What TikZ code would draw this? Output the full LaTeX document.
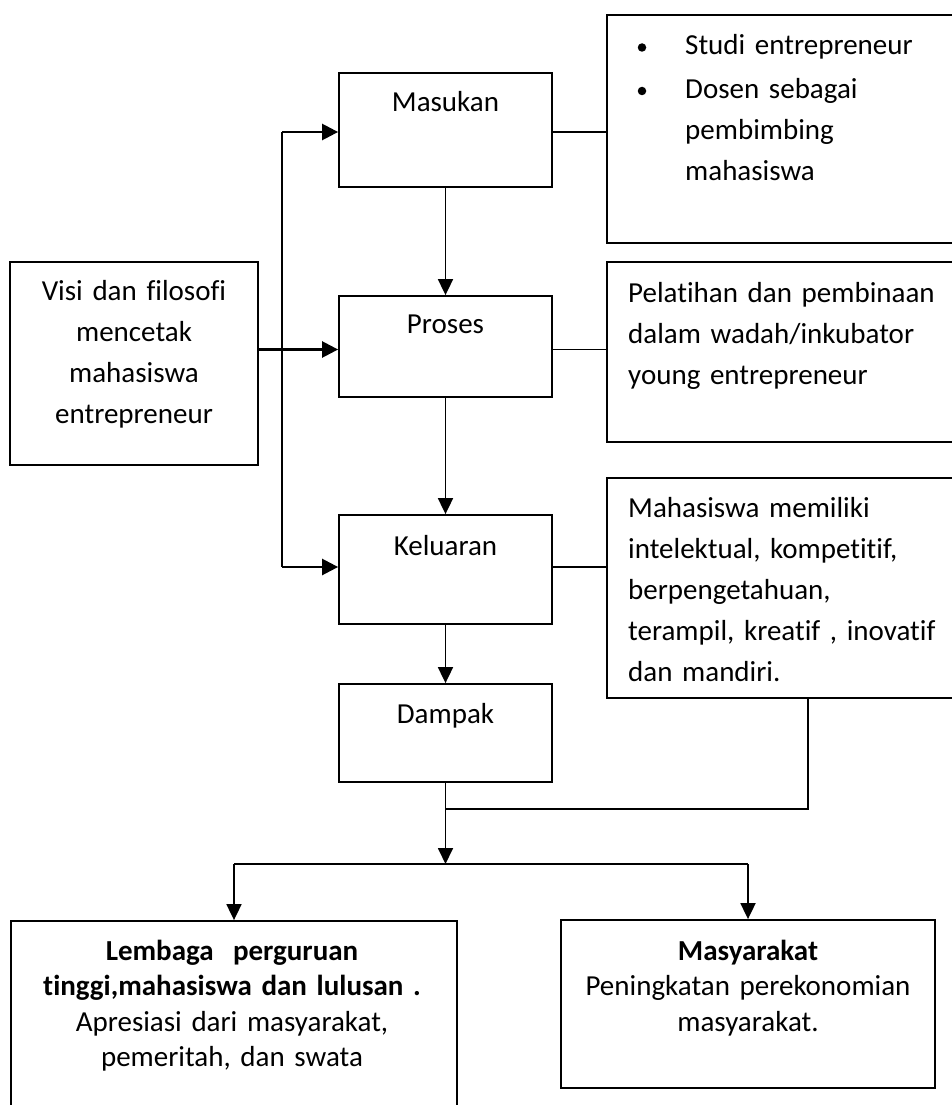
\documentclass[tikz,border=0pt]{standalone}
\usepackage{fontspec}
\setmainfont{Carlito}[Ligatures=NoCommon]
\usetikzlibrary{arrows.meta}
\begin{document}
\begin{tikzpicture}[x=1pt,y=-1pt,
  box/.style={draw, line width=1.8pt, inner sep=0pt},
  txt/.style={inner sep=0pt, font=\fontsize{29pt}{41pt}\selectfont},
  ctxt/.style={txt, anchor=base, align=center, text width=#1},
  ltxt/.style={txt, anchor=base west, align=left, text width=#1},
  conn/.style={line width=1.8pt},
  darr/.style={line width=1.8pt, -{Triangle[length=16pt,width=15pt]}},
  harr/.style={line width=2.5pt, -{Triangle[length=16pt,width=16pt]}},
  bus/.style={line width=2.5pt},
  bul/.style={circle, fill, inner sep=0pt, minimum size=8.5pt},
]
\useasboundingbox (0,0) rectangle (952,1105);
\clip (0,0) rectangle (952,1105);

% central column
\node[box, minimum width=213pt, minimum height=114pt] (masukan) at (445.5,130) {};
\node[box, minimum width=213pt, minimum height=101pt] (proses) at (445.5,346.5) {};
\node[box, minimum width=213pt, minimum height=109pt] (keluaran) at (445.5,569.5) {};
\node[box, minimum width=213pt, minimum height=98pt] (dampak) at (445.5,733) {};
\node[ctxt=200pt] (masukanT) at (445.5,112) {Masukan};
\node[ctxt=200pt] (prosesT) at (445.5,333) {Proses};
\node[ctxt=200pt] (keluaranT) at (445.5,555) {Keluaran};
\node[ctxt=200pt] (dampakT) at (445.5,723) {Dampak};

% left box
\node[box, minimum width=248pt, minimum height=203pt] (visi) at (134,363.5) {};
\node[ctxt=240pt] (visiT) at (134,300) {Visi dan filosofi\\mencetak\\mahasiswa\\entrepreneur};

% right boxes (run off the right edge)
\node[box, minimum width=368pt, minimum height=228pt] (r1) at (791,129) {};
\node[box, minimum width=368pt, minimum height=180pt] (r2) at (791,352) {};
\node[box, minimum width=368pt, minimum height=220pt] (r3) at (791,588) {};
\node[bul] (bul1) at (642,47.5) {};
\node[bul] (bul2) at (642,91) {};
\node[ltxt=260pt] (r1a) at (685,55) {Studi entrepreneur};
\node[ltxt=260pt] (r1b) at (685,99) {Dosen sebagai\\pembimbing\\mahasiswa};
\node[ltxt=320pt] (r2t) at (628,302) {Pelatihan dan pembinaan\\dalam wadah/inkubator\\young entrepreneur};
\node[ltxt=320pt] (r3t) at (628,517) {Mahasiswa memiliki\\intelektual, kompetitif,\\berpengetahuan,\\terampil, kreatif , inovatif\\dan mandiri.};

% bottom boxes
\node[box, minimum width=446pt, minimum height=220pt] (lembaga) at (234,1031) {};
\node[box, minimum width=374pt, minimum height=168pt] (masyarakat) at (748,1004) {};
\node[ctxt=440pt, font=\fontsize{29pt}{35.5pt}\selectfont] (lembagaT) at (232,960)
  {\textbf{Lembaga\ \ perguruan}\\\textbf{tinggi,mahasiswa dan lulusan .}\\Apresiasi dari masyarakat,\\pemeritah, dan swata};
\node[ctxt=360pt, font=\fontsize{29pt}{35.5pt}\selectfont] (masyarakatT) at (748,960)
  {\textbf{Masyarakat}\\Peningkatan perekonomian\\masyarakat.};

% left bus
\coordinate (jt) at (282,132);
\coordinate (jb) at (282,567);
\draw[bus] (jt) -- (jb);
\draw[harr] (jt) -- (jt -| masukan.west);
\draw[harr] (jb) -- (jb -| keluaran.west);
\draw[harr] ([yshift=-3pt]proses.west -| visi.east) -- ([yshift=-3pt]proses.west);

% column arrows
\draw[darr] (masukan.south) -- (proses.north);
\draw[darr] (proses.south) -- (keluaran.north);
\draw[darr] (keluaran.south) -- (dampak.north);

% right connectors
\draw[conn] ([yshift=-2pt]masukan.east) -- ([yshift=-2pt]masukan.east -| r1.west);
\draw[conn] ([yshift=-3pt]proses.east) -- ([yshift=-3pt]proses.east -| r2.west);
\draw[conn] ([yshift=2.5pt]keluaran.east) -- ([yshift=2.5pt]keluaran.east -| r3.west);

% merge and split
\coordinate (rj) at (808,809);
\coordinate (split) at (445.5,864);
\draw[conn] (r3.south -| rj) -- (rj) -- (rj -| dampak.south);
\draw[darr] (dampak.south) -- (split);
\draw[conn] (split -| lembaga.north) -- (split -| masyarakat.north);
\draw[darr] (split -| lembaga.north) -- (lembaga.north);
\draw[darr] (split -| masyarakat.north) -- (masyarakat.north);
\end{tikzpicture}
\end{document}
